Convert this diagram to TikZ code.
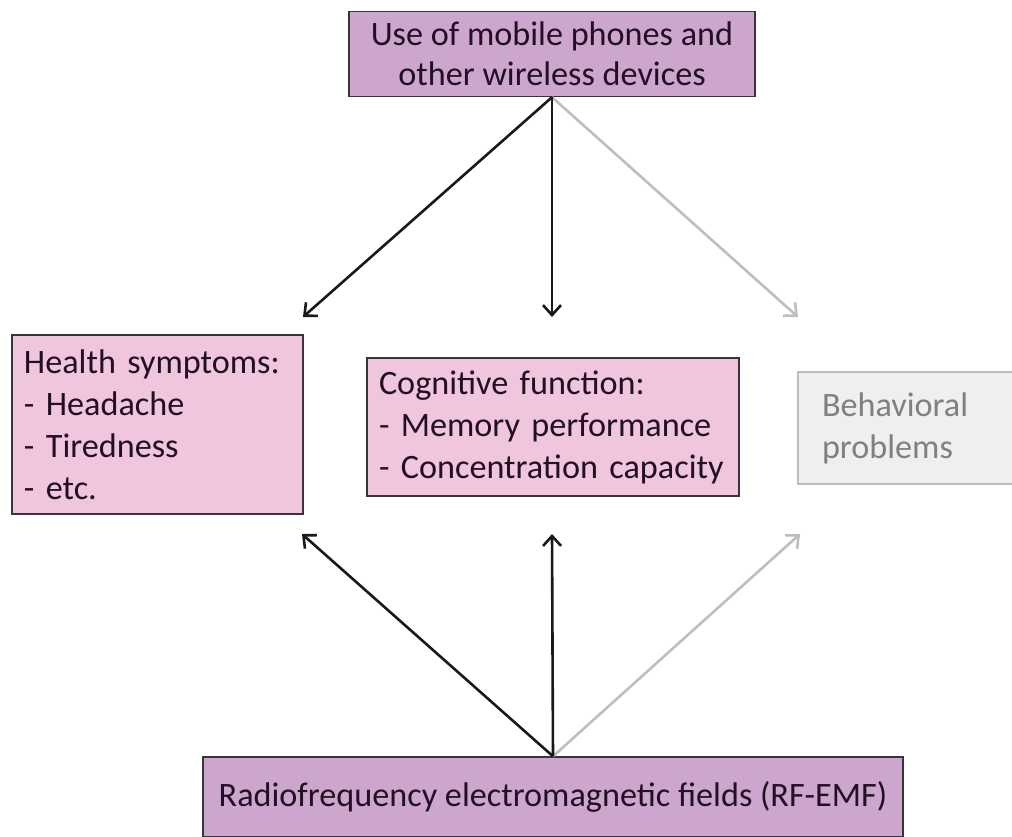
\documentclass[tikz,border=0pt]{standalone}
\usepackage{fontspec}
\setmainfont{Carlito}
\usetikzlibrary{arrows.meta}
\usepackage{xcolor}
\definecolor{causefill}{RGB}{205,166,206}
\definecolor{effectfill}{RGB}{240,197,222}
\definecolor{boxline}{RGB}{60,50,60}
\definecolor{boxtext}{RGB}{35,15,35}
\definecolor{fadefill}{RGB}{239,239,239}
\definecolor{fadeline}{RGB}{190,190,190}
\definecolor{fadetext}{RGB}{128,128,128}
\tikzset{
  causebox/.style={draw=boxline,line width=0.7pt,fill=causefill,text=boxtext,align=center,inner sep=0pt},
  effectbox/.style={draw=boxline,line width=0.7pt,fill=effectfill,text=boxtext,align=left,inner xsep=6pt,inner ysep=0pt},
  fadebox/.style={draw=fadeline,line width=0.7pt,fill=fadefill,text=fadetext,align=left,inner xsep=12pt,inner ysep=0pt},
  link/.style={->,line width=1.3pt,draw=black!90},
  fadelink/.style={->,line width=1.3pt,draw=fadeline},
}

\begin{document}
\begin{tikzpicture}[x=0.5pt,y=-0.5pt,>={Straight Barb[length=5pt,width=9pt]},
  font=\fontsize{17.1}{21}\selectfont]

\fill[white] (0,0) rectangle (1012,836);
\useasboundingbox (0,0) rectangle (1012,836);

% exposures
\node[causebox,minimum width=203pt,minimum height=42.5pt] (use) at (552,54)
  {Use of mobile phones and\\[-1pt] other wireless devices};
\node[causebox,minimum width=350pt,minimum height=40pt] (rf) at (553,797)
  {Radiofrequency electromagnetic fields (RF-EMF)};

% outcomes
\node[effectbox,text width=133.5pt,minimum height=89.5pt] (health) at (157.5,424.5)
  {Health symptoms:\\- Headache\\- Tiredness\\- etc.};
\node[effectbox,text width=174pt,minimum height=69pt] (cog) at (553,427)
  {Cognitive function:\\- Memory performance\\- Concentration~capacity};
\node[fadebox,text width=85pt,minimum height=56pt] (behav) at (907,428)
  {Behavioral\\problems};

% arrow ends
\coordinate (h-in) at (303,317);
\coordinate (c-in) at (552,317);
\coordinate (b-in) at (798,317);
\coordinate (h-out) at (302,534);
\coordinate (c-out) at (552,534);
\coordinate (b-out) at (800,534);

\draw[fadelink] (use.south) -- (b-in);
\draw[link] (use.south) -- (h-in);
\draw[link] (use.south) -- (c-in);

\draw[fadelink] (rf.north) -- (b-out);
\draw[link] (rf.north) -- (h-out);
\draw[link] (rf.north) -- (c-out);

\end{tikzpicture}
\end{document}
